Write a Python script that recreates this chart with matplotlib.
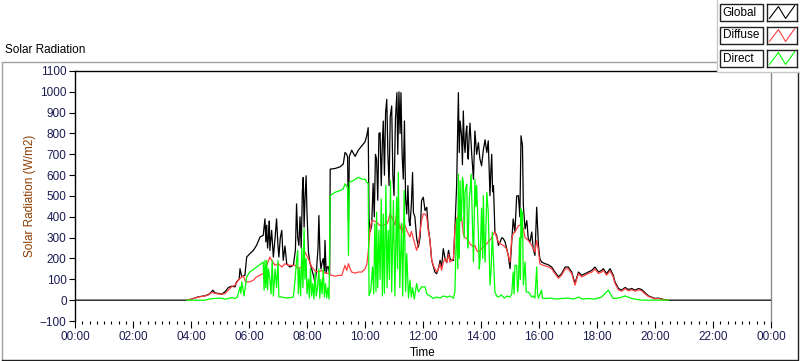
import matplotlib

matplotlib.use("Agg")
import matplotlib.pyplot as plt
from matplotlib.lines import Line2D
from matplotlib.patches import Rectangle
from matplotlib.ticker import FuncFormatter, MultipleLocator

# hours since midnight, W/m2
global_hours = [
    0.00, 3.85, 4.02, 4.25, 4.48, 4.60, 4.71, 4.75, 4.83, 4.94, 5.06, 5.17, 5.29, 5.40, 5.52, 5.57,
    5.66, 5.69, 5.75, 5.86, 5.92, 6.03, 6.15, 6.26, 6.38, 6.49, 6.55, 6.58, 6.61, 6.64, 6.67, 6.70,
    6.72, 6.78, 6.84, 6.90, 6.95, 7.00, 7.03, 7.08, 7.13, 7.18, 7.24, 7.30, 7.41, 7.53, 7.60, 7.64,
    7.68, 7.72, 7.76, 7.80, 7.84, 7.87, 7.90, 7.93, 7.97, 8.00, 8.05, 8.10, 8.16, 8.22, 8.28, 8.33,
    8.38, 8.41, 8.45, 8.48, 8.52, 8.56, 8.60, 8.62, 8.66, 8.70, 8.74, 8.78, 8.80, 8.97, 9.14, 9.25,
    9.31, 9.37, 9.40, 9.43, 9.46, 9.54, 9.66, 9.77, 9.89, 10.00, 10.06, 10.11, 10.14, 10.18, 10.23, 10.28,
    10.32, 10.36, 10.40, 10.44, 10.48, 10.52, 10.56, 10.60, 10.63, 10.67, 10.71, 10.75, 10.79, 10.83, 10.87, 10.92,
    10.96, 11.00, 11.05, 11.10, 11.13, 11.17, 11.21, 11.24, 11.28, 11.32, 11.36, 11.40, 11.44, 11.48, 11.52, 11.55,
    11.60, 11.64, 11.67, 11.72, 11.78, 11.84, 11.90, 11.95, 12.01, 12.07, 12.13, 12.18, 12.24, 12.30, 12.36, 12.41,
    12.47, 12.53, 12.59, 12.64, 12.70, 12.76, 12.82, 12.88, 12.93, 12.99, 13.05, 13.10, 13.16, 13.22, 13.25, 13.28,
    13.33, 13.36, 13.39, 13.42, 13.45, 13.48, 13.51, 13.54, 13.56, 13.59, 13.62, 13.68, 13.74, 13.79, 13.85, 13.91,
    13.96, 14.02, 14.08, 14.14, 14.20, 14.25, 14.31, 14.34, 14.37, 14.40, 14.43, 14.48, 14.54, 14.60, 14.66, 14.72,
    14.77, 14.83, 14.88, 14.94, 15.00, 15.06, 15.11, 15.17, 15.23, 15.29, 15.34, 15.38, 15.43, 15.46, 15.52, 15.58,
    15.63, 15.69, 15.75, 15.80, 15.86, 15.92, 15.98, 16.03, 16.09, 16.21, 16.32, 16.44, 16.55, 16.67, 16.78, 16.90,
    17.01, 17.13, 17.24, 17.36, 17.47, 17.59, 17.70, 17.82, 17.93, 18.05, 18.16, 18.22, 18.33, 18.45, 18.56, 18.62,
    18.74, 18.85, 18.97, 19.08, 19.20, 19.31, 19.43, 19.54, 19.66, 19.77, 19.89, 20.00, 20.11, 20.23, 20.34, 20.46,
    24.00,
]
global_wm2 = [
    0, 0, 5, 16, 21, 27, 40, 48, 35, 32, 29, 40, 61, 67, 64, 88,
    100, 151, 112, 120, 207, 223, 239, 263, 303, 311, 390, 280, 360, 250, 303, 380,
    239, 335, 207, 300, 390, 260, 207, 300, 335, 191, 260, 175, 159, 167, 240, 462,
    300, 263, 400, 250, 520, 589, 350, 480, 597, 420, 231, 180, 150, 120, 80, 150,
    250, 406, 200, 150, 180, 200, 140, 287, 130, 160, 160, 120, 629, 632, 640, 653,
    709, 700, 685, 374, 690, 720, 690, 720, 741, 760, 789, 828, 390, 330, 358, 560,
    400, 700, 677, 480, 800, 804, 550, 760, 860, 600, 900, 964, 700, 550, 880, 932,
    600, 502, 870, 996, 700, 1000, 800, 996, 700, 581, 860, 486, 414, 550, 380, 358,
    462, 613, 420, 400, 300, 255, 303, 478, 494, 430, 446, 350, 287, 191, 160, 135,
    127, 150, 191, 160, 247, 200, 180, 239, 200, 190, 191, 342, 550, 996, 709, 860,
    789, 650, 908, 760, 709, 800, 836, 700, 677, 780, 850, 700, 581, 812, 700, 756,
    680, 645, 720, 770, 709, 765, 502, 620, 700, 520, 550, 327, 310, 263, 280, 300,
    295, 280, 250, 215, 151, 279, 390, 327, 500, 502, 400, 789, 741, 454, 342, 382,
    295, 279, 327, 247, 215, 446, 263, 199, 183, 175, 170, 159, 135, 112, 127, 159,
    159, 135, 80, 135, 120, 127, 135, 143, 159, 135, 143, 151, 127, 151, 120, 88,
    56, 48, 61, 51, 56, 48, 56, 51, 35, 21, 14, 8, 10, 6, 2, 0,
    0,
]

diffuse_hours = [
    3.85, 4.02, 4.25, 4.48, 4.60, 4.71, 4.83, 4.94, 5.06, 5.17, 5.29, 5.40, 5.52, 5.63, 5.75, 5.81,
    5.88, 6.03, 6.15, 6.26, 6.38, 6.49, 6.61, 6.72, 6.78, 6.90, 7.01, 7.13, 7.24, 7.36, 7.47, 7.59,
    7.70, 7.82, 7.93, 8.05, 8.16, 8.28, 8.40, 8.50, 8.62, 8.74, 8.85, 8.97, 9.08, 9.20, 9.31, 9.37,
    9.43, 9.49, 9.54, 9.66, 9.77, 9.89, 10.00, 10.06, 10.11, 10.17, 10.23, 10.28, 10.40, 10.52, 10.63, 10.75,
    10.80, 10.86, 10.92, 10.98, 11.03, 11.09, 11.15, 11.21, 11.26, 11.32, 11.38, 11.44, 11.55, 11.60, 11.67, 11.72,
    11.78, 11.84, 11.95, 12.01, 12.07, 12.13, 12.18, 12.24, 12.30, 12.36, 12.41, 12.47, 12.53, 12.59, 12.64, 12.70,
    12.76, 12.82, 12.88, 12.93, 12.99, 13.05, 13.10, 13.16, 13.22, 13.28, 13.33, 13.39, 13.45, 13.51, 13.56, 13.62,
    13.68, 13.74, 13.79, 13.85, 13.91, 14.02, 14.14, 14.25, 14.37, 14.43, 14.48, 14.54, 14.60, 14.66, 14.77, 14.88,
    15.00, 15.06, 15.11, 15.17, 15.29, 15.38, 15.46, 15.52, 15.63, 15.75, 15.86, 15.92, 15.98, 16.03, 16.09, 16.21,
    16.32, 16.44, 16.55, 16.67, 16.78, 16.90, 17.01, 17.13, 17.24, 17.36, 17.47, 17.59, 17.70, 17.82, 17.93, 18.05,
    18.16, 18.22, 18.33, 18.45, 18.56, 18.62, 18.74, 18.85, 18.97, 19.08, 19.20, 19.31, 19.43, 19.54, 19.66, 19.77,
    19.89, 20.00, 20.11, 20.23, 20.34, 20.46,
]
diffuse_wm2 = [
    0, 5, 15, 20, 25, 37, 33, 30, 28, 32, 48, 64, 72, 96, 112, 115,
    88, 88, 96, 112, 120, 128, 167, 207, 191, 167, 175, 159, 175, 167, 167, 167,
    151, 160, 231, 199, 160, 140, 135, 143, 130, 128, 119, 115, 119, 119, 167, 143,
    175, 150, 135, 130, 135, 135, 150, 170, 230, 330, 380, 382, 374, 358, 360, 366,
    380, 414, 400, 380, 360, 414, 380, 340, 366, 319, 360, 335, 303, 330, 295, 271,
    239, 271, 382, 414, 414, 400, 335, 287, 191, 165, 151, 135, 150, 175, 143, 183,
    200, 180, 220, 183, 190, 200, 340, 390, 410, 446, 400, 319, 300, 295, 287, 270,
    263, 255, 263, 239, 231, 247, 263, 279, 300, 319, 327, 300, 279, 270, 263, 247,
    183, 295, 320, 327, 358, 360, 342, 300, 287, 263, 231, 287, 239, 175, 170, 165,
    160, 150, 128, 105, 120, 150, 150, 128, 72, 128, 112, 120, 128, 135, 150, 128,
    135, 143, 120, 140, 112, 80, 50, 43, 56, 45, 50, 43, 50, 45, 30, 18,
    12, 6, 8, 4, 1, 0,
]

direct_hours = [
    3.85, 4.50, 4.60, 4.80, 5.00, 5.20, 5.40, 5.52, 5.60, 5.69, 5.72, 5.75, 5.80, 5.83, 5.87, 5.92,
    6.03, 6.15, 6.26, 6.38, 6.49, 6.52, 6.55, 6.58, 6.61, 6.64, 6.67, 6.72, 6.76, 6.80, 6.84, 6.90,
    6.95, 7.00, 7.03, 7.13, 7.30, 7.41, 7.53, 7.59, 7.64, 7.68, 7.70, 7.74, 7.78, 7.82, 7.86, 7.90,
    7.93, 7.97, 8.00, 8.05, 8.08, 8.12, 8.16, 8.20, 8.24, 8.28, 8.32, 8.36, 8.41, 8.44, 8.48, 8.52,
    8.56, 8.60, 8.64, 8.68, 8.72, 8.76, 8.80, 8.97, 9.14, 9.25, 9.31, 9.40, 9.43, 9.46, 9.60, 9.77,
    9.89, 10.00, 10.06, 10.11, 10.14, 10.20, 10.26, 10.30, 10.34, 10.38, 10.40, 10.44, 10.48, 10.52, 10.56, 10.60,
    10.63, 10.67, 10.72, 10.76, 10.80, 10.84, 10.88, 10.92, 10.98, 11.03, 11.09, 11.12, 11.15, 11.20, 11.26, 11.30,
    11.35, 11.40, 11.44, 11.50, 11.55, 11.60, 11.64, 11.70, 11.78, 11.84, 11.95, 12.07, 12.13, 12.24, 12.36, 12.47,
    12.59, 12.70, 12.82, 12.93, 13.05, 13.10, 13.16, 13.20, 13.22, 13.25, 13.28, 13.31, 13.33, 13.36, 13.39, 13.42,
    13.45, 13.48, 13.51, 13.54, 13.56, 13.60, 13.62, 13.66, 13.70, 13.74, 13.79, 13.82, 13.85, 13.91, 13.94, 13.97,
    14.02, 14.06, 14.08, 14.11, 14.14, 14.17, 14.20, 14.25, 14.31, 14.35, 14.39, 14.48, 14.54, 14.60, 14.70, 14.80,
    14.90, 15.00, 15.06, 15.11, 15.14, 15.17, 15.23, 15.26, 15.29, 15.33, 15.36, 15.38, 15.41, 15.43, 15.46, 15.52,
    15.56, 15.63, 15.69, 15.75, 15.80, 15.86, 15.92, 15.95, 15.98, 16.09, 16.12, 16.21, 16.40, 16.60, 16.78, 17.00,
    17.20, 17.36, 17.50, 17.70, 17.93, 18.16, 18.33, 18.40, 18.45, 18.56, 18.74, 18.85, 18.97, 19.20, 19.31, 19.54,
    20.46,
]
direct_wm2 = [
    0, 0, 5, 8, 10, 5, 12, 8, 15, 64, 32, 88, 48, 20, 60, 112,
    136, 147, 159, 171, 183, 48, 191, 60, 191, 50, 150, 100, 30, 191, 20, 150,
    60, 191, 16, 15, 10, 12, 15, 100, 191, 239, 30, 150, 20, 250, 60, 342,
    100, 200, 30, 100, 10, 150, 20, 80, 5, 130, 20, 60, 150, 10, 100, 30,
    150, 15, 80, 10, 60, 5, 502, 518, 526, 534, 558, 540, 215, 566, 574, 590,
    581, 581, 566, 560, 22, 48, 159, 30, 366, 40, 422, 60, 335, 100, 486, 20,
    414, 33, 550, 60, 335, 100, 573, 40, 478, 20, 494, 150, 613, 60, 370, 20,
    526, 40, 223, 10, 96, 15, 60, 5, 80, 40, 64, 64, 30, 20, 8, 15,
    10, 20, 15, 20, 10, 40, 390, 150, 605, 200, 573, 380, 422, 589, 566, 300,
    518, 542, 557, 250, 311, 500, 518, 605, 390, 183, 581, 450, 550, 311, 150, 199,
    442, 200, 502, 300, 183, 350, 518, 422, 72, 150, 327, 39, 20, 15, 25, 10,
    20, 15, 30, 135, 30, 167, 167, 40, 72, 300, 100, 438, 300, 422, 72, 183,
    40, 39, 30, 15, 20, 10, 159, 30, 10, 48, 10, 8, 10, 5, 8, 10,
    5, 15, 5, 8, 5, 15, 40, 48, 32, 8, 10, 15, 20, 8, 5, 0,
    0,
]

series_names = ["Global", "Diffuse", "Direct"]
series_colors = ["#000000", "#ff4040", "#00ff00"]

W, H = 800, 361


def px_box(x0, y0, x1, y1):
    # pixel box (top-left origin) -> figure fraction rect
    return [x0 / W, 1 - y1 / H, (x1 - x0) / W, (y1 - y0) / H]


def px_line(fig, xs, ys, color):
    fig.add_artist(Line2D([v / W for v in xs], [1 - v / H for v in ys], transform=fig.transFigure,
                          color=color, linewidth=1.0, zorder=2))


def hhmm(value, _pos):
    return f"{int(round(value)) % 24:02d}:00"


def main() -> None:
    plt.rcParams["font.family"] = ["Liberation Sans", "DejaVu Sans"]
    plt.rcParams["font.size"] = 8.5

    fig = plt.figure(figsize=(W / 100, H / 100), dpi=100, facecolor="white")

    # outer chart panel: light top/left edges, dark bottom/right edges
    px_line(fig, [1.5, 1.5, 797.5], [359.5, 61.5, 61.5], "#a0a0a0")
    px_line(fig, [1.5, 797.5, 797.5], [359.5, 359.5, 61.5], "#202020")
    fig.text(5 / W, 1 - 50 / H, "Solar Radiation", ha="left", va="center", fontsize=8.5, color="#000000")

    ax = fig.add_axes(px_box(75, 71, 771, 321))
    ax.plot(global_hours, global_wm2, color=series_colors[0], lw=0.9, zorder=3)
    ax.plot(diffuse_hours, diffuse_wm2, color=series_colors[1], lw=0.9, zorder=4)
    ax.plot(direct_hours, direct_wm2, color=series_colors[2], lw=0.9, zorder=5)

    ax.set_xlim(0, 24)
    ax.set_ylim(-100, 1100)
    ax.xaxis.set_major_locator(MultipleLocator(2))
    ax.xaxis.set_minor_locator(MultipleLocator(0.25))
    ax.xaxis.set_major_formatter(FuncFormatter(hhmm))
    ax.yaxis.set_major_locator(MultipleLocator(100))

    for side in ("left", "top"):
        ax.spines[side].set_color("#000000")
        ax.spines[side].set_linewidth(1.0)
    ax.spines["right"].set_color("#8a8a8a")
    ax.spines["right"].set_linewidth(1.0)
    ax.spines["bottom"].set_visible(False)

    label_color = "#1c1c54"
    ax.tick_params(axis="both", which="major", direction="out", length=4, width=0.8,
                   color="#000000", labelcolor=label_color, labelsize=8.5, pad=2)
    ax.tick_params(axis="x", which="major", length=5)
    ax.tick_params(axis="x", which="minor", direction="out", length=2.5, width=0.8, color="#000000")
    ax.set_xlabel("Time", fontsize=8.5, color="#000000", labelpad=3)
    ax.set_ylabel("Solar Radiation (W/m2)", fontsize=8.5, color="#8c3c00", labelpad=3)

    # legend panel in the top-right corner
    x, y, w, h = px_box(717, -2, 802, 72)
    fig.add_artist(Rectangle((x, y), w, h, transform=fig.transFigure, facecolor="white",
                             edgecolor="#c8c8c8", linewidth=1.0, zorder=10))
    for i, (name, color) in enumerate(zip(series_names, series_colors)):
        top = 4 + i * 23
        x, y, w, h = px_box(720, top, 763, top + 17)
        fig.add_artist(Rectangle((x, y), w, h, transform=fig.transFigure, facecolor="white",
                                 edgecolor="#202020", linewidth=1.0, zorder=11))
        fig.text(722.5 / W, 1 - (top + 8.5) / H, name, ha="left", va="center", fontsize=8.5,
                 color="#000000", zorder=12)
        icon = fig.add_axes(px_box(767, top, 797, top + 17), zorder=12)
        icon.plot([0.08, 0.38, 0.62, 0.92], [0.15, 0.85, 0.15, 0.9], color=color, lw=0.8)
        icon.set_xlim(0, 1)
        icon.set_ylim(0, 1)
        icon.set_xticks([])
        icon.set_yticks([])
        for spine in icon.spines.values():
            spine.set_color("#202020")
            spine.set_linewidth(1.0)

    fig.savefig("out.png", dpi=100, facecolor="white")
    plt.close(fig)


if __name__ == "__main__":
    main()
